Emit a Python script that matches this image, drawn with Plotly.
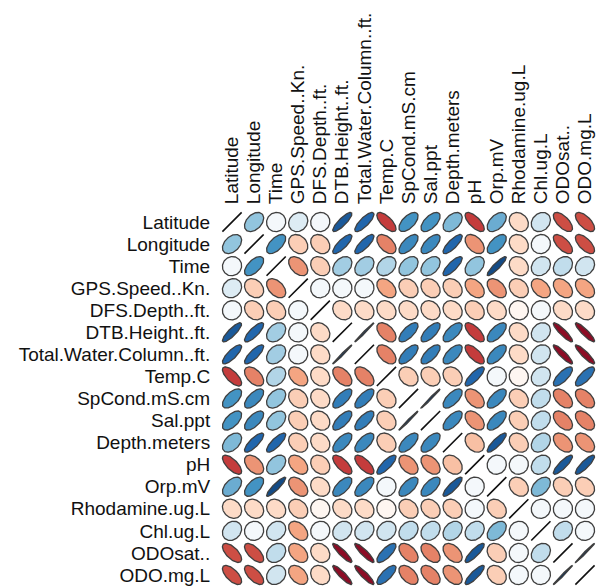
import numpy as np
import plotly.graph_objects as go

variables = ["Latitude", "Longitude", "Time", "GPS.Speed..Kn.", "DFS.Depth..ft.",
             "DTB.Height..ft.", "Total.Water.Column..ft.", "Temp.C", "SpCond.mS.cm",
             "Sal.ppt", "Depth.meters", "pH", "Orp.mV", "Rhodamine.ug.L", "Chl.ug.L",
             "ODOsat..", "ODO.mg.L"]

r_latitude   = [1.00, 0.40, 0.05, 0.15, 0.05, 0.85, 0.80, -0.70, 0.60, 0.60, 0.45, -0.70, 0.50, -0.20, 0.20, -0.65, -0.65]
r_longitude  = [0.40, 1.00, 0.60, -0.25, -0.25, 0.80, 0.80, -0.50, 0.65, 0.65, 0.80, -0.45, 0.60, -0.20, 0.05, -0.65, -0.65]
r_time       = [0.05, 0.60, 1.00, -0.45, -0.25, 0.35, 0.35, 0.30, 0.40, 0.40, 0.80, 0.40, 0.90, -0.20, 0.20, 0.25, 0.20]
r_gps        = [0.15, -0.25, -0.45, 1.00, 0.05, 0.05, 0.05, -0.40, -0.25, -0.25, -0.25, -0.40, -0.45, -0.25, -0.40, -0.40, -0.40]
r_dfs        = [0.05, -0.25, -0.25, 0.05, 1.00, -0.20, -0.20, -0.20, -0.20, -0.20, -0.20, -0.25, -0.20, -0.05, 0.05, -0.20, -0.20]
r_dtb        = [0.85, 0.80, 0.35, 0.05, -0.20, 1.00, 0.99, -0.50, 0.70, 0.70, 0.65, -0.70, 0.65, -0.20, 0.20, -0.90, -0.90]
r_total      = [0.80, 0.80, 0.35, 0.05, -0.20, 0.99, 1.00, -0.50, 0.70, 0.70, 0.65, -0.70, 0.65, -0.20, 0.20, -0.90, -0.90]
r_temp       = [-0.70, -0.50, 0.30, -0.40, -0.20, -0.50, -0.50, 1.00, -0.25, -0.25, -0.25, 0.80, 0.05, -0.05, 0.20, 0.75, 0.75]
r_spcond     = [0.60, 0.65, 0.40, -0.25, -0.20, 0.70, 0.70, -0.25, 1.00, 0.99, 0.65, -0.45, 0.65, -0.25, 0.25, -0.50, -0.50]
r_sal        = [0.60, 0.65, 0.40, -0.25, -0.20, 0.70, 0.70, -0.25, 0.99, 1.00, 0.65, -0.45, 0.65, -0.25, 0.25, -0.50, -0.50]
r_depth      = [0.45, 0.80, 0.80, -0.25, -0.20, 0.65, 0.65, -0.25, 0.65, 0.65, 1.00, -0.30, 0.85, -0.25, 0.30, -0.45, -0.45]
r_ph         = [-0.70, -0.45, 0.40, -0.40, -0.25, -0.70, -0.70, 0.80, -0.45, -0.45, -0.30, 1.00, 0.05, 0.05, 0.25, 0.85, 0.85]
r_orp        = [0.50, 0.60, 0.90, -0.45, -0.20, 0.65, 0.65, 0.05, 0.65, 0.65, 0.85, 0.05, 1.00, -0.25, 0.45, -0.25, -0.25]
r_rhodamine  = [-0.20, -0.20, -0.20, -0.25, -0.05, -0.20, -0.20, -0.05, -0.25, -0.25, -0.25, 0.05, -0.25, 1.00, 0.05, 0.05, 0.05]
r_chl        = [0.20, 0.05, 0.20, -0.40, 0.05, 0.20, 0.20, 0.20, 0.25, 0.25, 0.30, 0.25, 0.45, 0.05, 1.00, 0.25, 0.05]
r_odosat     = [-0.65, -0.65, 0.25, -0.40, -0.20, -0.90, -0.90, 0.75, -0.50, -0.50, -0.45, 0.85, -0.25, 0.05, 0.25, 1.00, 0.99]
r_odomg      = [-0.65, -0.65, 0.20, -0.40, -0.20, -0.90, -0.90, 0.75, -0.50, -0.50, -0.45, 0.85, -0.25, 0.05, 0.05, 0.99, 1.00]

corr = [r_latitude, r_longitude, r_time, r_gps, r_dfs, r_dtb, r_total, r_temp, r_spcond,
        r_sal, r_depth, r_ph, r_orp, r_rhodamine, r_chl, r_odosat, r_odomg]

palette = ["#67001F", "#B2182B", "#D6604D", "#F4A582", "#FDDBC7", "#FFFFFF",
           "#D1E5F0", "#92C5DE", "#4393C3", "#2166AC", "#053061"]


def hex2rgb(h):
    return [int(h[i:i + 2], 16) for i in (1, 3, 5)]


pal_rgb = np.array([hex2rgb(c) for c in palette], dtype=float)
pal_pos = np.linspace(-1, 1, len(palette))


def color_for(r):
    rgb = [np.interp(r, pal_pos, pal_rgb[:, k]) for k in range(3)]
    return "rgb(%d,%d,%d)" % tuple(int(round(v)) for v in rgb)


k = np.linspace(0, 2 * np.pi, 99)
fig = go.Figure()
n = len(variables)
for i in range(n):
    for j in range(n):
        r = corr[i][j]
        d = np.arccos(np.clip(r, -1, 1))
        ex = 0.87 * np.cos(k + d / 2) / 2
        ey = 0.87 * np.cos(k - d / 2) / 2
        is_line = r >= 0.999
        fig.add_trace(go.Scatter(
            x=j + ex, y=i - ey, mode="lines",
            fill="toself", fillcolor=color_for(r),
            line=dict(color="#111111" if is_line else "#3f3f3f", width=1.6 if is_line else 1.3),
            hoverinfo="skip", showlegend=False))

font = dict(family="Liberation Sans, Arial, sans-serif", size=19, color="#111111")
fig.update_layout(
    width=597, height=580,
    margin=dict(l=213, r=9, t=203, b=2, autoexpand=False),
    paper_bgcolor="white", plot_bgcolor="white",
    font=font,
    xaxis=dict(range=[-0.5, n - 0.5], side="top", tickmode="array",
               tickvals=list(range(n)), ticktext=variables, tickangle=-90,
               showgrid=False, zeroline=False, showline=False,
               ticks="outside", ticklen=2, tickcolor="rgba(0,0,0,0)",
               tickfont=font, fixedrange=True, automargin=False),
    yaxis=dict(range=[n - 0.5, -0.5], tickmode="array",
               tickvals=list(range(n)), ticktext=variables,
               showgrid=False, zeroline=False, showline=False,
               ticks="outside", ticklen=6, tickcolor="rgba(0,0,0,0)",
               tickfont=font, fixedrange=True, automargin=False),
)

fig.write_html("out.html")
